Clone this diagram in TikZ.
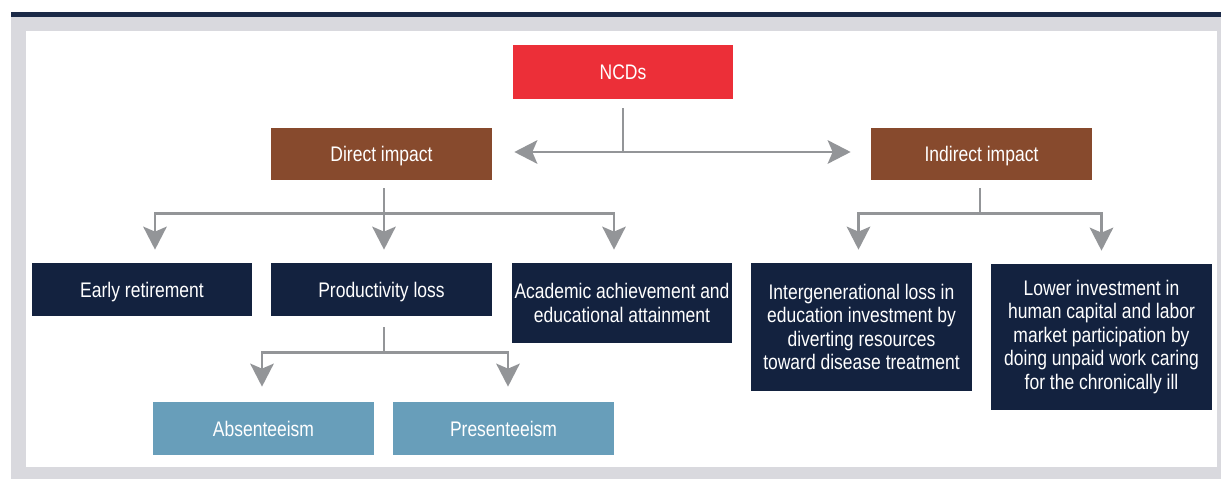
\documentclass[tikz,border=0pt]{standalone}
\usepackage{fontspec}
\setmainfont{Liberation Sans}[FakeStretch=0.83]
\usetikzlibrary{arrows.meta,calc}
\definecolor{BarClr}{RGB}{27,42,71}
\definecolor{FrameClr}{RGB}{217,217,222}
\definecolor{NcdClr}{RGB}{236,47,56}
\definecolor{ImpactClr}{RGB}{135,74,45}
\definecolor{EffectClr}{RGB}{19,34,63}
\definecolor{LossClr}{RGB}{104,158,186}
\definecolor{ConnClr}{RGB}{147,149,152}

\begin{document}
\begin{tikzpicture}[x=0.02cm,y=-0.02cm,
  box/.style={minimum width=4.42cm,minimum height=1.06cm,inner sep=0pt,
    text=white,align=center,font=\fontsize{12}{13.4}\selectfont},
  oneline/.style={text depth=0pt},
  ncdbox/.style={box,fill=NcdClr,minimum height=1.08cm},
  impactbox/.style={box,oneline,fill=ImpactClr,minimum height=1.04cm},
  effectbox/.style={box,fill=EffectClr},
  lossbox/.style={box,fill=LossClr},
  conn/.style={draw=ConnClr,line width=1.5pt,
    -{Stealth[length=0.46cm,width=0.47cm,inset=0.1cm]}},
  both/.style={conn,{Stealth[length=0.46cm,width=0.47cm,inset=0.1cm]}-{Stealth[length=0.46cm,width=0.47cm,inset=0.1cm]}}]

\useasboundingbox[fill=white] (0,0) rectangle (1221,479);
\fill[FrameClr] (11,17) rectangle (1221,479);
\fill[BarClr] (11,12) rectangle (1221,17);
\fill[white] (26,31) rectangle (1217,467);

\node[ncdbox] (ncd) at (623,72) {NCDs};
\node[impactbox] (direct) at (381.5,154) {Direct impact};
\node[impactbox] (indirect) at (981.5,154) {Indirect impact};

\node[effectbox,oneline] (early) at (142,289.5) {Early retirement};
\node[effectbox,oneline] (prod) at (381.5,289.5) {Productivity loss};
\node[effectbox,minimum height=1.6cm] (acad) at (622,303)
  {Academic achievement and\\educational attainment};
\node[effectbox,minimum height=2.56cm] (inter) at (861.5,327)
  {Intergenerational loss in\\education investment by\\diverting resources\\toward disease treatment};
\node[effectbox,minimum height=2.92cm] (lower) at (1101.5,337)
  {Lower investment in\\human capital and labor\\market participation by\\doing unpaid work caring\\for the chronically ill};

\node[lossbox] (abs) at (263.5,428.5) {Absenteeism};
\node[lossbox] (pres) at (503.5,428.5) {Presenteeism};

\draw[ConnClr,line width=1.5pt,shorten <=0.18cm] (ncd.south) -- ($(ncd.south |- direct.east)+(0,-2)$);
\draw[both,shorten <=0.44cm,shorten >=0.4cm] ($(direct.east)+(0,-2)$) -- ($(indirect.west)+(0,-2)$);

\foreach \to/\dx in {early/13,prod/2.5,acad/-8}
  \draw[conn,shorten <=0.16cm,shorten >=0.26cm] ($(direct.south)+(2.5,0)$) -- ++(0,33) -| ($(\to.north)+(\dx,0)$);
\foreach \to/\dx in {inter/-3,lower/0}
  \draw[conn,shorten <=0.16cm,shorten >=0.26cm] ($(indirect.south)+(-1.5,0)$) -- ++(0,33) -| ($(\to.north)+(\dx,0)$);
\foreach \to/\dx in {abs/-1.5,pres/4.5}
  \draw[conn,shorten <=0.22cm,shorten >=0.3cm] ($(prod.south)+(2.5,0)$) -- ++(0,36) -| ($(\to.north)+(\dx,0)$);

\end{tikzpicture}
\end{document}
